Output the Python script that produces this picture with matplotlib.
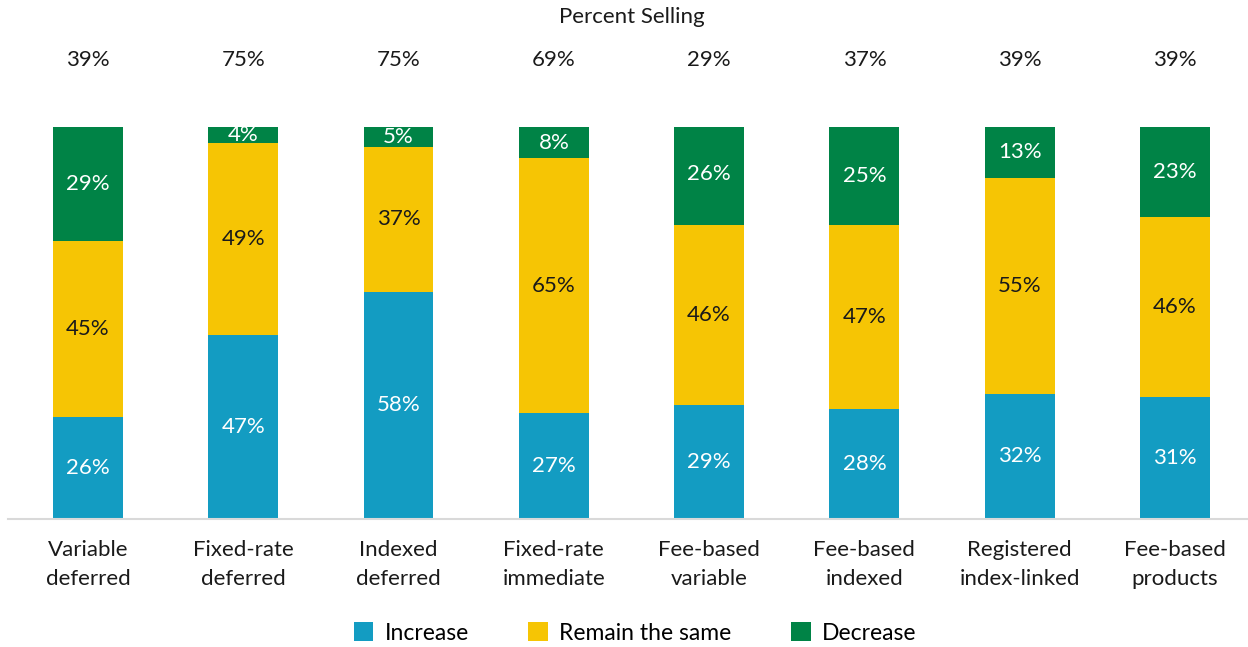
import matplotlib
matplotlib.use("Agg")
import matplotlib.pyplot as plt
from matplotlib.patches import Patch

categories = ["Variable\ndeferred", "Fixed-rate\ndeferred", "Indexed\ndeferred",
              "Fixed-rate\nimmediate", "Fee-based\nvariable", "Fee-based\nindexed",
              "Registered\nindex-linked", "Fee-based\nproducts"]
increase = [26, 47, 58, 27, 29, 28, 32, 31]
remain = [45, 49, 37, 65, 46, 47, 55, 46]
decrease = [29, 4, 5, 8, 26, 25, 13, 23]
percent_selling = [39, 75, 75, 69, 29, 37, 39, 39]

series_names = ["Increase", "Remain the same", "Decrease"]
colors = ["#139CC2", "#F6C504", "#008346"]
text_colors = ["white", "#1a1a1a", "white"]

plt.rcParams["font.family"] = ["Lato", "DejaVu Sans"]
FS = 16

W, H = 1248, 647
fig = plt.figure(figsize=(W / 100, H / 100), dpi=100)
ax = fig.add_axes([8 / W, 1 - 519 / H, (1248 - 8) / W, (519 - 127) / H])

x = list(range(len(categories)))
bottom = [0] * len(categories)
for vals, col, tcol in zip([increase, remain, decrease], colors, text_colors):
    ax.bar(x, vals, width=0.45, bottom=bottom, color=col, linewidth=0)
    for xi, b, v in zip(x, bottom, vals):
        ax.text(xi, b + v / 2, f"{v}%", ha="center", va="center",
                color=tcol, fontsize=FS)
    bottom = [b + v for b, v in zip(bottom, vals)]

for xi, p in zip(x, percent_selling):
    ax.text(xi, 117, f"{p}%", ha="center", va="center", fontsize=FS,
            color="#1a1a1a", clip_on=False)
ax.text(3.5, 128, "Percent Selling", ha="center", va="center", fontsize=FS,
        color="#1a1a1a", clip_on=False)

ax.set_xlim(-0.515, 7.47)
ax.set_ylim(0, 100)
ax.set_yticks([])
ax.set_xticks(x)
ax.set_xticklabels(categories, fontsize=FS, color="#1a1a1a", linespacing=1.55)
ax.tick_params(axis="x", length=0, pad=15)
for side in ["top", "right", "left"]:
    ax.spines[side].set_visible(False)
ax.spines["bottom"].set_color("#d9d9d9")
ax.spines["bottom"].set_linewidth(1.5)

handles = [Patch(facecolor=c, edgecolor="none") for c in colors]
fig.legend(handles, series_names, loc="center", ncol=3,
           bbox_to_anchor=(0.5 + 11 / W, 1 - 633 / H), frameon=False,
           fontsize=FS + 0.5, handlelength=0.85, handleheight=0.85,
           columnspacing=2.6, handletextpad=0.5)

fig.savefig("out.png", dpi=100)
